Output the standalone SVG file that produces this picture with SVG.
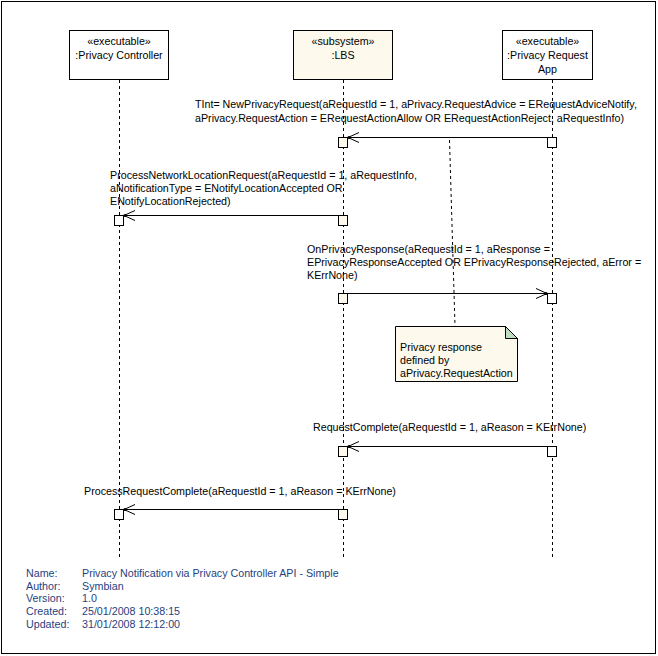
<svg xmlns="http://www.w3.org/2000/svg" width="658" height="656" viewBox="0 0 658 656">
<defs>
<style>
text{font-family:"Liberation Sans",Arial,sans-serif;font-size:10.7px;fill:#000}
.ftr{fill:#1f3f80}
.obj{fill:#fff;stroke:#000;stroke-width:1}
.sub{fill:#fdf9ec;stroke:#000;stroke-width:1}
.life{stroke:#000;stroke-width:1;stroke-dasharray:3,3;fill:none}
.act{fill:#fff;stroke:#000;stroke-width:1}
.actc{fill:#fdf9ec;stroke:#000;stroke-width:1}
.msg{stroke:#000;stroke-width:1;fill:none}
.note{fill:#fdf9ec;stroke:#000;stroke-width:1}
</style>
<marker id="ah" viewBox="0 0 14 14" refX="12" refY="7" markerWidth="14" markerHeight="14" markerUnits="userSpaceOnUse" orient="auto">
<path d="M1,2 L12,7 L1,12" fill="none" stroke="#000" stroke-width="1"/>
<circle cx="11" cy="7" r="1.6" fill="#000"/>
</marker>
</defs>
<rect x="0" y="0" width="658" height="656" fill="#fff"/>
<rect x="1.5" y="1.5" width="654" height="652" fill="none" stroke="#000" stroke-width="1"/>

<g id="lifelines">
<line class="life" x1="119.5" y1="80" x2="119.5" y2="557"/>
<line class="life" x1="343.5" y1="80" x2="343.5" y2="557"/>
<line class="life" x1="552.5" y1="80" x2="552.5" y2="557"/>
</g>

<g id="node-privacy-controller">
<rect class="obj" x="69.5" y="30.5" width="99" height="49"/>
<text x="119" y="45" text-anchor="middle">«executable»</text>
<text x="119" y="59" text-anchor="middle">:Privacy Controller</text>
</g>
<g id="node-lbs">
<rect class="sub" x="293.5" y="30.5" width="99" height="49"/>
<text x="343" y="45" text-anchor="middle">«subsystem»</text>
<text x="343" y="59" text-anchor="middle">:LBS</text>
</g>
<g id="node-privacy-request-app">
<rect class="obj" x="502.5" y="30.5" width="90" height="49"/>
<text x="547.5" y="45" text-anchor="middle">«executable»</text>
<text x="547.5" y="59" text-anchor="middle">:Privacy Request</text>
<text x="547.5" y="73" text-anchor="middle">App</text>
</g>

<g id="activations">
<rect class="actc" x="338.5" y="137.5" width="9" height="10"/>
<rect class="act" x="547.5" y="137.5" width="9" height="10"/>
<rect class="act" x="114.5" y="215.5" width="9" height="10"/>
<rect class="actc" x="338.5" y="215.5" width="9" height="10"/>
<rect class="actc" x="338.5" y="293.5" width="9" height="10"/>
<rect class="act" x="547.5" y="293.5" width="9" height="10"/>
<rect class="actc" x="338.5" y="446.5" width="9" height="10"/>
<rect class="act" x="547.5" y="446.5" width="9" height="10"/>
<rect class="act" x="114.5" y="509.5" width="9" height="10"/>
<rect class="actc" x="338.5" y="509.5" width="9" height="10"/>
</g>

<g id="connectors">
<line class="msg" x1="547.5" y1="137.5" x2="348" y2="137.5" marker-end="url(#ah)"/>
<line class="msg" x1="338.5" y1="215.5" x2="124" y2="215.5" marker-end="url(#ah)"/>
<line class="msg" x1="347.5" y1="293.5" x2="547" y2="293.5" marker-end="url(#ah)"/>
<line class="msg" x1="547.5" y1="446.5" x2="348" y2="446.5" marker-end="url(#ah)"/>
<line class="msg" x1="338.5" y1="509.5" x2="124" y2="509.5" marker-end="url(#ah)"/>
<line class="life" x1="449.5" y1="140" x2="455" y2="326"/>
</g>

<g id="labels">
<text x="195" y="108">TInt= NewPrivacyRequest(aRequestId = 1, aPrivacy.RequestAdvice = ERequestAdviceNotify,</text>
<text x="195" y="122">aPrivacy.RequestAction = ERequestActionAllow OR ERequestActionReject, aRequestInfo)</text>
<text x="110" y="179">ProcessNetworkLocationRequest(aRequestId = 1, aRequestInfo,</text>
<text x="110" y="192">aNotificationType = ENotifyLocationAccepted OR</text>
<text x="110" y="205">ENotifyLocationRejected)</text>
<text x="307" y="253">OnPrivacyResponse(aRequestId = 1, aResponse =</text>
<text x="307" y="266">EPrivacyResponseAccepted OR EPrivacyResponseRejected, aError =</text>
<text x="307" y="279">KErrNone)</text>
<text x="313" y="431">RequestComplete(aRequestId = 1, aReason = KErrNone)</text>
<text x="84" y="495">ProcessRequestComplete(aRequestId = 1, aReason = KErrNone)</text>
</g>

<g id="note">
<path class="note" d="M395.5,326.5 L505.5,326.5 L517.5,338.5 L517.5,381.5 L395.5,381.5 Z"/>
<path d="M505.5,326.5 L505.5,338.5 L517.5,338.5 Z" fill="#c0dcc0" stroke="#000" stroke-width="1"/>
<text x="400" y="351">Privacy response</text>
<text x="400" y="364">defined by</text>
<text x="400" y="377">aPrivacy.RequestAction</text>
</g>

<g id="footer">
<text class="ftr" x="26" y="577">Name:</text>
<text class="ftr" x="26" y="590">Author:</text>
<text class="ftr" x="26" y="602">Version:</text>
<text class="ftr" x="26" y="615">Created:</text>
<text class="ftr" x="26" y="628">Updated:</text>
<text class="ftr" x="82" y="577">Privacy Notification via Privacy Controller API - Simple</text>
<text class="ftr" x="82" y="590">Symbian</text>
<text class="ftr" x="82" y="602">1.0</text>
<text class="ftr" x="82" y="615">25/01/2008 10:38:15</text>
<text class="ftr" x="82" y="628">31/01/2008 12:12:00</text>
</g>
</svg>
